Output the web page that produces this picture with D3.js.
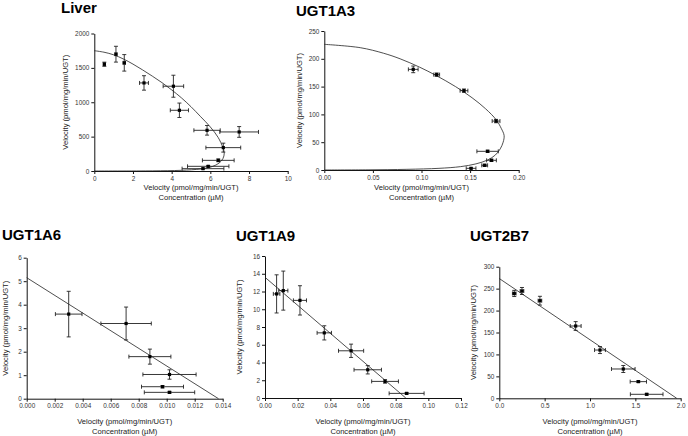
<!DOCTYPE html>
<html><head><meta charset="utf-8">
<script src="https://cdn.jsdelivr.net/npm/d3@7"></script>
<style>
body{margin:0;background:#fff}
svg{display:block;background:#fff}
text{font-family:"Liberation Sans",Arial,sans-serif;fill:#222}
</style>
</head><body>
<svg id="chart" width="688" height="436"></svg>
<script>
// ---------- DATA ----------
const titles = ["Liver", "UGT1A3", "UGT1A6", "UGT1A9", "UGT2B7"];
const xLabel1 = "Velocity (pmol/mg/min/UGT)";
const xLabel2 = "Concentration (µM)";
const yLabel = "Velocity (pmol/mg/min/UGT)";

// Liver
const liverX   = [0.52, 1.12, 1.55, 2.57, 4.09, 4.40, 5.83, 7.49, 6.67, 6.41, 5.89, 5.62];
const liverY   = [1553, 1699, 1573, 1281, 1233, 883, 592, 568, 340, 155, 68, 34];
const liverXE  = [0.05, 0.05, 0.06, 0.23, 0.53, 0.47, 0.68, 1.0, 0.9, 0.82, 1.07, 1.08];
const liverYE  = [30, 115, 120, 105, 160, 105, 70, 78, 65, 20, 10, 8];
const liverCurveX = [0, 0.5, 1, 1.5, 2, 2.5, 3, 3.5, 4, 4.5, 5, 5.5, 6, 6.4, 6.65, 6.72, 6.65, 6.45, 6.1, 5.5, 4.5, 3, 0];
const liverCurveY = [1750, 1728, 1690, 1630, 1555, 1470, 1380, 1285, 1180, 1065, 935, 790, 640, 490, 340, 260, 180, 115, 65, 30, 10, 2, 0];
const liverXTicks = [0, 2, 4, 6, 8, 10];
const liverYTicks = [0, 500, 1000, 1500, 2000];

// UGT1A3
const a3X  = [0.0915, 0.1156, 0.1437, 0.1767, 0.168, 0.172, 0.165, 0.151];
const a3Y  = [181, 171.5, 142.7, 88, 33.6, 17.4, 8.4, 3];
const a3XE = [0.005, 0.003, 0.004, 0.004, 0.011, 0.005, 0.003, 0.005];
const a3YE = [6, 3, 3, 3, 2, 2, 2, 1];
const a3CurveX = [0, 0.037, 0.061, 0.078, 0.098, 0.115, 0.135, 0.152, 0.166, 0.177, 0.182, 0.185, 0.184, 0.181, 0.176, 0.168, 0.156, 0.14, 0.118, 0.085, 0.045, 0];
const a3CurveY = [226, 220, 210, 200, 185, 170, 150, 130, 110, 90, 75, 62, 50, 38, 27, 18, 11, 6, 3, 1.2, 0.3, 0];
const a3XTicks = [0, 0.05, 0.10, 0.15, 0.20];
const a3YTicks = [0, 50, 100, 150, 200, 250];

// UGT1A6
const a6X  = [0.0030, 0.0071, 0.0088, 0.0102, 0.0097, 0.0102];
const a6Y  = [3.6, 3.2, 1.79, 1.03, 0.51, 0.27];
const a6XE = [0.00095, 0.0018, 0.0015, 0.0019, 0.0015, 0.0018];
const a6YE = [0.97, 0.7, 0.32, 0.2, 0.05, 0.04];
const a6LineX = [0, 0.0137];
const a6LineY = [5.15, 0];
const a6XTicks = [0, 0.002, 0.004, 0.006, 0.008, 0.010, 0.012, 0.014];
const a6YTicks = [0, 1, 2, 3, 4, 5, 6];

// UGT1A9
const a9X  = [0.0071, 0.0112, 0.0214, 0.0363, 0.0527, 0.0629, 0.0735, 0.0867];
const a9Y  = [11.73, 12.1, 11.0, 7.34, 5.32, 3.18, 1.87, 0.52];
const a9XE = [0.002, 0.0028, 0.004, 0.0044, 0.0077, 0.0084, 0.0082, 0.0107];
const a9YE = [2.15, 2.2, 1.65, 0.8, 0.75, 0.47, 0.2, 0.1];
const a9LineX = [0, 0.0862];
const a9LineY = [13.6, 0];
const a9XTicks = [0, 0.02, 0.04, 0.06, 0.08, 0.10, 0.12];
const a9YTicks = [0, 2, 4, 6, 8, 10, 12, 14, 16];

// UGT2B7
const b7X  = [0.165, 0.25, 0.448, 0.842, 1.11, 1.367, 1.533, 1.625];
const b7Y  = [239, 244.6, 222.5, 164.8, 110, 66.8, 38, 9.1];
const b7XE = [0.02, 0.02, 0.02, 0.06, 0.06, 0.13, 0.09, 0.18];
const b7YE = [7, 8, 10, 10, 8, 8, 2, 2];
const b7LineX = [0, 1.956];
const b7LineY = [273, 0];
const b7XTicks = [0, 0.5, 1.0, 1.5, 2.0];
const b7YTicks = [0, 50, 100, 150, 200, 250, 300];

// ---------- LAYOUT ----------
const panels = [
  {title: titles[0], tx: 61, ty: 13, x0: 94.3, x1: 287.7, yb: 171, yt: 33.5,
   xd: [0, 10], yd: [0, 2000], xt: liverXTicks, yt2: liverYTicks, xf: d3.format("d"), yf: d3.format("d"),
   ylx: 65.5, xl1: 190, xl2: 199.5,
   X: liverX, Y: liverY, XE: liverXE, YE: liverYE, CX: liverCurveX, CY: liverCurveY, smooth: true},
  {title: titles[1], tx: 296, ty: 16, x0: 324.3, x1: 518.7, yb: 170, yt: 31,
   xd: [0, 0.2], yd: [0, 250], xt: a3XTicks, yt2: a3YTicks, xf: d3.format(".2f"), yf: d3.format("d"),
   ylx: 299, xl1: 190, xl2: 199.5,
   X: a3X, Y: a3Y, XE: a3XE, YE: a3YE, CX: a3CurveX, CY: a3CurveY, smooth: true},
  {title: titles[2], tx: 2, ty: 240, x0: 26.7, x1: 222.7, yb: 398.7, yt: 257.7,
   xd: [0, 0.014], yd: [0, 6], xt: a6XTicks, yt2: a6YTicks, xf: d3.format(".3f"), yf: d3.format("d"),
   ylx: 5.5, xl1: 424, xl2: 434,
   X: a6X, Y: a6Y, XE: a6XE, YE: a6YE, CX: a6LineX, CY: a6LineY, smooth: false},
  {title: titles[3], tx: 236, ty: 241, x0: 265, x1: 461, yb: 398, yt: 256,
   xd: [0, 0.12], yd: [0, 16], xt: a9XTicks, yt2: a9YTicks, xf: d3.format(".2f"), yf: d3.format("d"),
   ylx: 239, xl1: 424, xl2: 434,
   X: a9X, Y: a9Y, XE: a9XE, YE: a9YE, CX: a9LineX, CY: a9LineY, smooth: false},
  {title: titles[4], tx: 470, ty: 241, x0: 499.3, x1: 680.7, yb: 398.3, yt: 266.7,
   xd: [0, 2], yd: [0, 300], xt: b7XTicks, yt2: b7YTicks, xf: d3.format(".1f"), yf: d3.format("d"),
   ylx: 473, xl1: 424, xl2: 434,
   X: b7X, Y: b7Y, XE: b7XE, YE: b7YE, CX: b7LineX, CY: b7LineY, smooth: false}
];

const svg = d3.select("#chart");
svg.append("rect").attr("width", 688).attr("height", 436).attr("fill", "#fff");

panels.forEach(p => {
  const g = svg.append("g");
  const x = d3.scaleLinear().domain(p.xd).range([p.x0, p.x1]);
  const y = d3.scaleLinear().domain(p.yd).range([p.yb, p.yt]);

  g.append("text").attr("x", p.tx).attr("y", p.ty)
    .attr("font-size", 15).attr("font-weight", "bold").style("fill", "#000").text(p.title);

  const xa = g.append("g").attr("transform", `translate(0,${p.yb})`)
    .call(d3.axisBottom(x).tickValues(p.xt).tickFormat(p.xf).tickSizeInner(3).tickSizeOuter(0).tickPadding(2));
  const ya = g.append("g").attr("transform", `translate(${p.x0},0)`)
    .call(d3.axisLeft(y).tickValues(p.yt2).tickFormat(p.yf).tickSizeInner(3).tickSizeOuter(0).tickPadding(2));
  [xa, ya].forEach(a => {
    a.selectAll("path.domain").attr("stroke", "#111").attr("stroke-width", 1);
    a.selectAll(".tick line").attr("stroke", "#111");
    a.selectAll(".tick text").attr("font-size", 6.4).attr("font-family", "Liberation Sans, Arial, sans-serif").style("fill", "#333");
  });

  g.append("text").attr("transform", `translate(${p.ylx},${(p.yb + p.yt) / 2}) rotate(-90)`)
    .attr("text-anchor", "middle").attr("dominant-baseline", "central").attr("font-size", 7.6).text(yLabel);
  g.append("text").attr("x", (p.x0 + p.x1) / 2).attr("y", p.xl1).attr("text-anchor", "middle")
    .attr("font-size", 7.6).text(xLabel1);
  g.append("text").attr("x", (p.x0 + p.x1) / 2).attr("y", p.xl2).attr("text-anchor", "middle")
    .attr("font-size", 7.6).text(xLabel2);

  // fit curve / line
  const cpts = p.CX.map((v, i) => [v, p.CY[i]]);
  const line = d3.line().x(d => x(d[0])).y(d => y(d[1]));
  if (p.smooth) line.curve(d3.curveCatmullRom.alpha(0.5));
  g.append("path").datum(cpts).attr("d", line).attr("fill", "none")
    .attr("stroke", "#222").attr("stroke-width", 0.8);

  // error bars & points
  const pts = p.X.map((v, i) => ({x: v, y: p.Y[i], xe: p.XE[i], ye: p.YE[i]}));
  const eb = g.append("g").attr("stroke", "#222").attr("stroke-width", 0.9).attr("fill", "none");
  const cap = 2;
  pts.forEach(d => {
    const cx = x(d.x), cy = y(d.y);
    const xl = x(d.x - d.xe), xr = x(d.x + d.xe);
    const yt = y(d.y + d.ye), yb = y(d.y - d.ye);
    eb.append("line").attr("x1", xl).attr("x2", xr).attr("y1", cy).attr("y2", cy);
    eb.append("line").attr("x1", xl).attr("x2", xl).attr("y1", cy - cap).attr("y2", cy + cap);
    eb.append("line").attr("x1", xr).attr("x2", xr).attr("y1", cy - cap).attr("y2", cy + cap);
    eb.append("line").attr("x1", cx).attr("x2", cx).attr("y1", yt).attr("y2", yb);
    eb.append("line").attr("x1", cx - cap).attr("x2", cx + cap).attr("y1", yt).attr("y2", yt);
    eb.append("line").attr("x1", cx - cap).attr("x2", cx + cap).attr("y1", yb).attr("y2", yb);
  });
  g.append("g").selectAll("rect").data(pts).join("rect")
    .attr("x", d => x(d.x) - 1.6).attr("y", d => y(d.y) - 1.6)
    .attr("width", 3.2).attr("height", 3.2).attr("fill", "#000");
});
</script>
</body></html>
